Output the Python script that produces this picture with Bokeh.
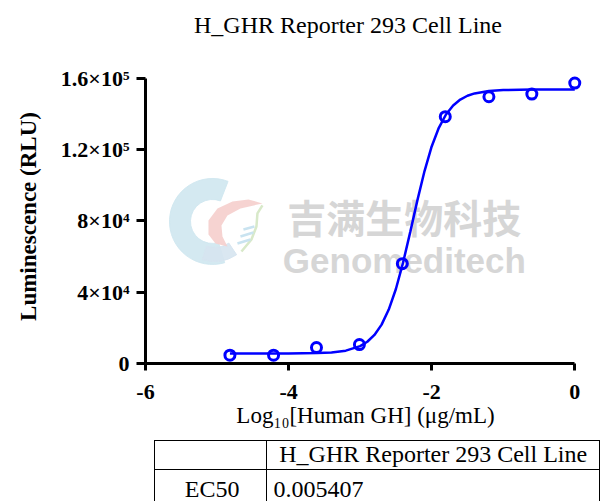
from bokeh.plotting import figure
from bokeh.models import Range1d, FixedTicker, Div
from bokeh.layouts import column
from bokeh.core.properties import value
from bokeh.embed import file_html
from bokeh.resources import INLINE

# ---------------- data ----------------
title_text = "H_GHR Reporter 293 Cell Line"
log_conc = [-4.82, -4.21, -3.61, -3.01, -2.41, -1.81, -1.20, -0.60, 0.0]
rlu = [4670, 4670, 8960, 10640, 56000, 138500, 149700, 151200, 157400]

curve_x = [-4.82, -4.4, -4.0, -3.6, -3.4, -3.2, -3.0, -2.9, -2.8, -2.7, -2.6, -2.5,
           -2.4, -2.3, -2.2, -2.1, -2.0, -1.9, -1.8, -1.7, -1.6, -1.5, -1.4, -1.2,
           -1.0, -0.6, 0.0]
curve_y = [5600, 5605, 5634, 5835, 6215, 7207, 9750, 12220, 16040, 21830, 30260, 41830,
           56610, 73740, 91560, 108020, 121800, 132270, 139750, 144810, 148130, 150260,
           151580, 152950, 153480, 153740, 153800]

x_ticks = [-6, -4, -2, 0]
x_tick_labels = ["-6", "-4", "-2", "0"]
y_ticks = [0, 40000, 80000, 120000, 160000]
y_tick_labels = ["0", "4×10⁴", "8×10⁴", "1.2×10⁵", "1.6×10⁵"]

x_label = "Log₁₀[Human GH] (μg/mL)"
y_label = "Luminescence (RLU)"

table_header = "H_GHR Reporter 293 Cell Line"
table_row_name = "EC50"
table_row_value = "0.005407"

watermark_cn = "吉满生物科技"
watermark_en = "Genomeditech"

BLUE = "#0000FF"
SERIF = "Liberation Serif"
W = 600

# ---------------- title (html) ----------------
title_html = f"""
<div style="position:relative; width:{W}px; height:50px; background:white;">
<span style="position:absolute; left:348px; top:11px; transform:translateX(-50%);
  font-family:'Liberation Serif'; font-size:24px; line-height:28px; color:#000;
  white-space:nowrap;">{title_text}</span>
</div>
"""
title_div = Div(text=title_html, width=W, height=50, margin=(0, 0, 0, 0))

# ---------------- figure ----------------
p = figure(frame_width=440, frame_height=294,
           min_border_left=145, min_border_right=W - 145 - 440,
           min_border_top=19, min_border_bottom=73,
           x_range=Range1d(-6, 0.15), y_range=Range1d(0, 165000),
           output_backend="svg", toolbar_location=None)
p.outline_line_color = None
p.xgrid.grid_line_color = None
p.ygrid.grid_line_color = None
p.background_fill_color = "white"
p.border_fill_color = "white"
p.margin = (0, 0, 0, 0)

# helper mapping page pixels to data coords (watermark decoration only)
def dx(px):
    return -6 + (px - 145) / 71.58

def dy(py):
    return (363 - py) * 561.4

def pts(seq):
    return [dx(a) for a, b in seq], [dy(b) for a, b in seq]

# watermark logo (approximate)
p.annular_wedge(x=[dx(212)], y=[dy(221)], inner_radius=22, outer_radius=43,
                inner_radius_units="screen", outer_radius_units="screen",
                start_angle=1.2, end_angle=5.0, color="#cfe7ef", alpha=0.9)
p.annular_wedge(x=[dx(214)], y=[dy(221)], inner_radius=26, outer_radius=40,
                inner_radius_units="screen", outer_radius_units="screen",
                start_angle=4.4, end_angle=5.3, color="#d6e4f0", alpha=0.9)
leaf = [(262, 203), (248, 199), (232, 201), (217, 208), (208, 220), (208, 234),
        (215, 243), (227, 246), (222, 236), (221, 225), (227, 215), (240, 208), (262, 203)]
lx, ly = pts(leaf)
p.patch(lx, ly, fill_color="#f6d1cf", line_color=None, alpha=0.95)
stem = [(262, 205), (257, 213), (256, 226), (251, 239), (241, 251)]
sx, sy = pts(stem)
p.line(sx, sy, line_color="#d8e9c9", line_width=2.5)
for (a, b), (c, d) in [((243, 229), (254, 226)), ((240, 236), (253, 232)),
                       ((237, 243), (250, 239))]:
    p.line([dx(a), dx(c)], [dy(b), dy(d)], line_color="#c9e3f0", line_width=2.5)

# watermark text
p.text(x=[dx(404)], y=[dy(216)], text=[watermark_cn], text_align="center",
       text_baseline="alphabetic", text_font=value("Noto Sans CJK SC"),
       text_font_style="bold", text_font_size="39px", text_color="#d6d6d6")
p.text(x=[dx(404)], y=[dy(260)], text=[watermark_en], text_align="center",
       text_baseline="alphabetic", text_font=value("Liberation Sans"),
       text_font_style="bold", text_font_size="35px", text_color="#d6d6d6")

# fitted curve and points
p.line(curve_x, curve_y, line_color=BLUE, line_width=2.5)
p.scatter(log_conc, rlu, marker="circle", size=10, line_color=BLUE,
          line_width=3, fill_color=None)

# axes
xa = p.xaxis[0]
xa.ticker = FixedTicker(ticks=x_ticks)
xa.bounds = (-6, 0)
xa.major_label_overrides = {t: l for t, l in zip(x_ticks, x_tick_labels)}
ya = p.yaxis[0]
ya.ticker = FixedTicker(ticks=y_ticks)
ya.bounds = (0, 160000)
ya.major_label_overrides = {t: l for t, l in zip(y_ticks, y_tick_labels)}

for ax in (xa, ya):
    ax.axis_line_width = 3
    ax.axis_line_color = "black"
    ax.major_tick_line_width = 3
    ax.major_tick_line_color = "black"
    ax.major_tick_in = 0
    ax.minor_tick_line_color = None
    ax.major_label_text_font = SERIF
    ax.major_label_text_font_style = "bold"
    ax.major_label_text_font_size = "22px"
    ax.major_label_text_color = "black"
    ax.axis_label_text_font = SERIF
    ax.axis_label_text_color = "black"

xa.major_tick_out = 7
xa.major_label_standoff = 14
xa.axis_label = x_label
xa.axis_label_text_font_style = "normal"
xa.axis_label_text_font_size = "23px"
xa.axis_label_standoff = 1

ya.major_tick_out = 9
ya.major_label_standoff = 7
ya.axis_label = y_label
ya.axis_label_text_font_style = "bold"
ya.axis_label_text_font_size = "23px"
ya.axis_label_standoff = 17

# ---------------- table ----------------
cell = "border:1.5px solid #000; padding:0;"
table_html = f"""
<div style="position:relative; width:{W}px; height:65px; overflow:hidden; background:white;">
<table style="position:absolute; left:154px; top:4px; border-collapse:collapse;
  font-family:'Liberation Serif'; font-size:24px; color:#000; line-height:1.15;">
<tr style="height:28px;">
  <td style="{cell} width:113px;"></td>
  <td style="{cell} width:333px; text-align:center; white-space:nowrap;">{table_header}</td>
</tr>
<tr style="height:40px;">
  <td style="{cell} text-align:right; padding-right:27px; padding-top:6px; vertical-align:top;">{table_row_name}</td>
  <td style="{cell} text-align:left; padding-left:6px; padding-top:6px; vertical-align:top;">{table_row_value}</td>
</tr>
</table>
</div>
"""
table_div = Div(text=table_html, width=W, height=65, margin=(0, 0, 0, 0),
                styles={"overflow": "hidden"})

layout = column(title_div, p, table_div, spacing=0)
open("out.html", "w").write(file_html(layout, INLINE))
